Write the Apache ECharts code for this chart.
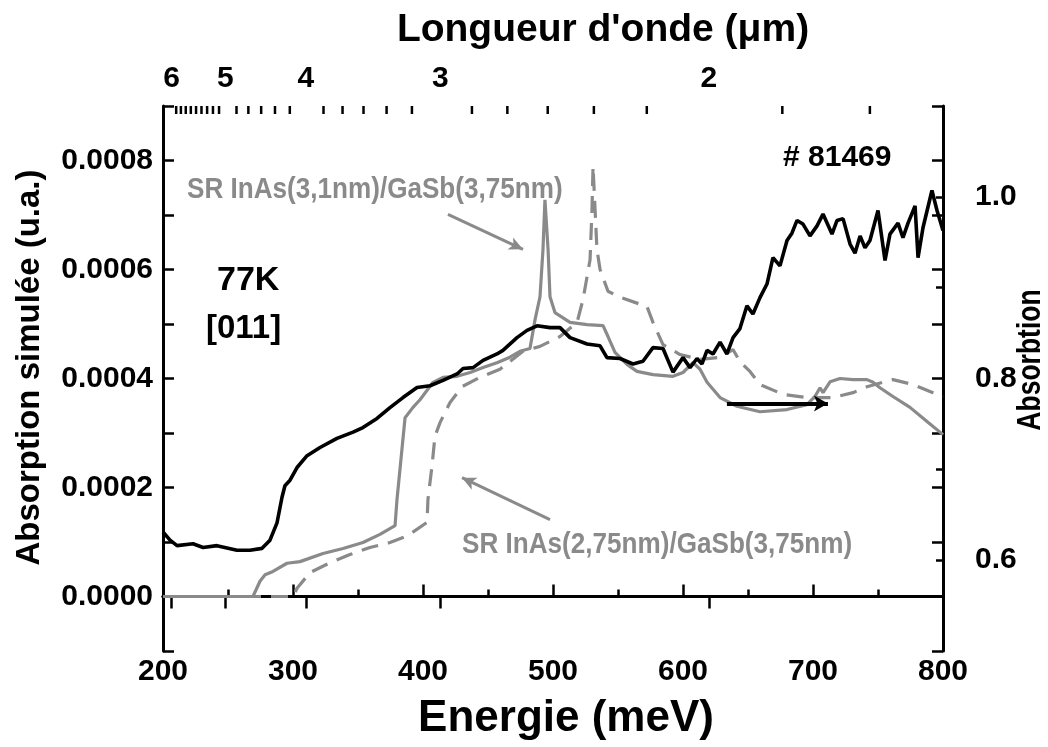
<!DOCTYPE html>
<html>
<head>
<meta charset="utf-8">
<script src="https://cdn.jsdelivr.net/npm/echarts@6/dist/echarts.min.js"></script>
<style>html,body{margin:0;padding:0;background:#fff;overflow:hidden;width:1048px;height:747px}#c{width:1048px;height:747px}</style>
</head>
<body>
<div id="c"></div>
<script>
// ---- data ----
const HC = 1239.84; // meV * µm
const waveMajor = [6, 5, 4, 3, 2];
const waveMinor = [5.9,5.8,5.7,5.6,5.5,5.4,5.3,5.2,5.1,4.833,4.667,4.5,4.333,4.167,3.833,3.667,3.5,3.333,3.167,2.833,2.667,2.5,2.333,2.167,1.833,1.667];

// measured absorption (right axis) – sample # 81469
const expE = [200,205.4,210.8,223.1,230.8,241.5,256.9,266.9,276.2,282.3,287.7,291.5,293.8,297.7,303.1,310.8,320.8,333.8,346.2,353.8,364.6,374.6,384.6,395.4,405.4,415.4,426.2,430.8,438.5,446.2,456.9,461.5,472.3,480,487.7,497.7,505.4,513.1,526.2,536.2,541.5,551.5,561.5,569.2,576.9,584.6,592.3,600,605.4,610.8,614.6,618.5,623.1,628.5,633.8,638.5,643.8,649.2,653.8,659.2,664.6,669.2,674.6,680,683.8,687.7,692.3,697.7,703.1,707.7,714.6,718.5,723.1,728.5,732.3,736.2,740,743.8,750,755.4,759.2,765.4,769.2,773.1,778.5,780.8,784.6,791.5,795.4,800];
const expA = [0.631,0.622,0.616,0.618,0.614,0.616,0.611,0.611,0.613,0.622,0.641,0.669,0.682,0.688,0.702,0.715,0.724,0.734,0.741,0.746,0.756,0.768,0.779,0.790,0.792,0.798,0.805,0.811,0.812,0.820,0.827,0.831,0.845,0.853,0.858,0.856,0.856,0.845,0.838,0.836,0.823,0.822,0.816,0.819,0.834,0.833,0.807,0.823,0.812,0.822,0.816,0.831,0.827,0.840,0.827,0.845,0.855,0.880,0.871,0.889,0.904,0.933,0.924,0.952,0.960,0.974,0.970,0.957,0.968,0.981,0.959,0.974,0.976,0.948,0.938,0.957,0.944,0.952,0.985,0.930,0.959,0.971,0.955,0.971,0.990,0.933,0.966,1.007,0.985,0.963];

// simulated SR InAs(3,1nm)/GaSb(3,75nm) – solid grey (left axis)
const simAE = [200,269.2,274.6,278.5,284.6,295.4,305.4,323.1,338.5,353.8,366.9,378.5,380,383.8,386.2,392.3,397.7,407.7,415.4,426.2,436.2,446.2,456.9,466.9,474.6,482.3,486.2,490,492.3,493.8,496.2,497.7,501.5,513.1,526.2,538.5,542.3,547.7,556.9,564.6,576.9,592.3,600,607.7,613.1,618.5,628.5,641.5,659.2,680,695.4,701.5,705.4,707.7,713.1,720.8,730.8,741.5,746.2,751.5,761.5,774.6,787.7,800];
const simAV = [0,0,0.000028,0.00004,0.000046,0.000061,0.000064,0.000079,0.000088,0.000099,0.000114,0.00013,0.000178,0.00027,0.000328,0.000347,0.000361,0.000393,0.000402,0.000404,0.000411,0.00042,0.000429,0.000439,0.00045,0.000455,0.000508,0.00055,0.000637,0.000728,0.000637,0.00055,0.000521,0.000503,0.000499,0.000497,0.000477,0.000448,0.000426,0.000413,0.000407,0.000404,0.000411,0.000429,0.000417,0.000393,0.000365,0.000349,0.000339,0.000343,0.000352,0.000367,0.000383,0.000374,0.000394,0.0004,0.000398,0.000398,0.000393,0.000383,0.000367,0.000347,0.000321,0.000297];

// simulated SR InAs(2,75nm)/GaSb(3,75nm) – dashed grey (left axis)
const simBE = [200,300,303.1,313.1,328.5,343.8,359.2,374.6,388.5,403.1,403.8,406.9,409.2,413.1,420.8,430,443.8,459.2,476.9,490,505.4,518.5,523.1,528.5,530,530.8,533.8,536.2,542.3,551.5,572.3,576.9,584.6,597.7,613.1,628.5,638.5,643.8,651.5,659.2,676.9,695.4,715.4,730.8,741.5,761.5,776.9,792.3,800];
const simBV = [0,0,0.000015,0.000044,0.000062,0.000077,0.00009,0.000099,0.000112,0.000136,0.000178,0.000239,0.000294,0.000319,0.000356,0.000385,0.000402,0.000417,0.00045,0.000459,0.000477,0.000503,0.000545,0.000618,0.00071,0.000789,0.000637,0.0006,0.00056,0.000549,0.000532,0.000503,0.000462,0.000444,0.000435,0.000439,0.000453,0.000431,0.000413,0.000389,0.000371,0.000365,0.000365,0.000374,0.000385,0.000398,0.000389,0.000374,0.000367];

// annotation arrows (data coordinates)
const arrowA = [[419.2, 0.000701], [476.9, 0.000637]];
const arrowB = [[497.7, 0.000141], [430.0, 0.000218]];
const arrowExp = [[633.8, 0.7725], [711.5, 0.7725]];

// ---- chart ----
const FONT = '"Liberation Sans", Arial, sans-serif';
const GREY = '#8a8a8a';
const zip = (a, b) => a.map((x, i) => [x, b[i]]);
const toE = w => HC / w;
const axisLine = {show: true, lineStyle: {color: '#000', width: 3}};
const tickStyle = {color: '#000', width: 2.5};
const lbl = {fontFamily: FONT, fontWeight: 'bold', fontSize: 30, color: '#000'};
const GRID_TOP = 106;

const chart = echarts.init(document.getElementById('c'), null, {renderer: 'canvas', width: 1048, height: 747});
chart.setOption({
  animation: false,
  backgroundColor: '#fff',
  grid: {left: 163, right: 105, top: GRID_TOP, bottom: 96, containLabel: false},
  xAxis: [
    {
      type: 'value', position: 'bottom', min: 200, max: 800, interval: 100,
      axisLine: axisLine,
      axisTick: {show: true, inside: true, length: 12, lineStyle: tickStyle},
      minorTick: {show: true, splitNumber: 2, length: 7, lineStyle: tickStyle},
      splitLine: {show: false},
      axisLabel: Object.assign({margin: 6}, lbl),
      name: 'Energie (meV)', nameLocation: 'middle', nameGap: 46,
      nameTextStyle: {fontFamily: FONT, fontWeight: 'bold', fontSize: 44, color: '#000', padding: [0, 0, 0, 26]}
    },
    {
      type: 'value', position: 'top', min: 200, max: 800,
      axisLine: axisLine,
      axisTick: {show: true, inside: true, length: 12, lineStyle: tickStyle, customValues: waveMajor.map(toE)},
      axisLabel: Object.assign({margin: 12, customValues: waveMajor.map(toE), formatter: v => String(Math.round(HC / v))}, lbl),
      splitLine: {show: false},
      name: "Longueur d'onde (\u03bcm)", nameLocation: 'middle', nameGap: 56,
      nameTextStyle: {fontFamily: FONT, fontWeight: 'bold', fontSize: 39, color: '#000', padding: [0, 0, 0, 100]}
    }
  ],
  yAxis: [
    {
      type: 'value', position: 'left', min: -0.0001, max: 0.0009, interval: 0.0001,
      axisLine: axisLine,
      axisTick: {show: true, inside: true, length: 11, lineStyle: tickStyle},
      splitLine: {show: false},
      axisLabel: Object.assign({margin: 10, formatter: v => {
        const k = Math.round(v * 1e4);
        return (k % 2 === 0 && k >= 0 && k <= 8) ? (k / 1e4).toFixed(4) : '';
      }}, lbl),
      name: 'Absorption simulée (u.a.)', nameLocation: 'middle', nameGap: 117,
      nameTextStyle: {fontFamily: FONT, fontWeight: 'bold', fontSize: 33, color: '#000', padding: [0, 0, 0, 22]}
    },
    {
      type: 'value', position: 'right', min: 0.5, max: 1.1, interval: 0.1,
      axisLine: axisLine,
      axisTick: {show: true, inside: true, length: 7, lineStyle: tickStyle},
      splitLine: {show: false},
      axisLabel: Object.assign({margin: 32, formatter: v => {
        const k = Math.round(v * 10);
        return (k === 6 || k === 8 || k === 10) ? (k / 10).toFixed(1) : '';
      }}, lbl)
    },
    {
      type: 'value', position: 'right', min: -0.0001, max: 0.0009, interval: 0.0001,
      axisLine: {show: false},
      axisTick: {show: true, inside: true, length: 11, lineStyle: tickStyle},
      splitLine: {show: false},
      axisLabel: {show: false}
    }
  ],
  series: [
    {
      name: 'SR InAs(2,75nm)/GaSb(3,75nm)', type: 'line', xAxisIndex: 0, yAxisIndex: 0,
      data: zip(simBE, simBV), showSymbol: false, symbol: 'none',
      lineStyle: {color: GREY, width: 3.2, type: [17, 10]}, z: 2
    },
    {
      name: 'SR InAs(3,1nm)/GaSb(3,75nm)', type: 'line', xAxisIndex: 0, yAxisIndex: 0,
      data: zip(simAE, simAV), showSymbol: false, symbol: 'none',
      lineStyle: {color: GREY, width: 3.2}, z: 3,
      markLine: {
        silent: true, symbol: ['none', 'arrow'], symbolSize: [10, 14], label: {show: false},
        lineStyle: {color: GREY, width: 3, type: 'solid'},
        data: [
          [{coord: arrowA[0]}, {coord: arrowA[1]}],
          [{coord: arrowB[0]}, {coord: arrowB[1]}]
        ]
      }
    },
    {
      name: '# 81469', type: 'line', xAxisIndex: 0, yAxisIndex: 1,
      data: zip(expE, expA), showSymbol: false, symbol: 'none',
      lineStyle: {color: '#000', width: 3.6}, z: 4,
      markLine: {
        silent: true, symbol: ['none', 'arrow'], symbolSize: [12, 14], label: {show: false},
        lineStyle: {color: '#000', width: 4, type: 'solid'},
        data: [[{coord: arrowExp[0]}, {coord: arrowExp[1]}]]
      }
    }
  ],
  graphic: [
    {type: 'text', left: 783, top: 143, style: {text: '# 81469', font: 'bold 30px ' + FONT, fill: '#000'}},
    {type: 'text', left: 217, top: 264, style: {text: '77K', font: 'bold 34px ' + FONT, fill: '#000'}},
    {type: 'text', left: 206, top: 312, style: {text: '[011]', font: 'bold 33px ' + FONT, fill: '#000'}},
    {type: 'text', x: 187, y: 190, scaleX: 0.87, style: {text: 'SR InAs(3,1nm)/GaSb(3,75nm)', font: 'bold 30px ' + FONT, fill: GREY, verticalAlign: 'middle'}},
    {type: 'text', x: 462, y: 545, scaleX: 0.87, style: {text: 'SR InAs(2,75nm)/GaSb(3,75nm)', font: 'bold 30px ' + FONT, fill: GREY, verticalAlign: 'middle'}},
    {type: 'text', x: 1031, y: 360, rotation: Math.PI / 2, scaleX: 0.78, style: {text: 'Absorbtion', font: 'bold 34px ' + FONT, fill: '#000', align: 'center', verticalAlign: 'middle'}}
  ]
});

// minor wavelength ticks on the top axis, positioned through the x axis scale
const minorTicks = waveMinor.map((w, i) => {
  const x = chart.convertToPixel({xAxisIndex: 0}, toE(w));
  return {
    type: 'line', id: 'wtick' + i, z: 50, silent: true,
    shape: {x1: x, y1: GRID_TOP, x2: x, y2: GRID_TOP + 8},
    style: {stroke: '#000', lineWidth: 2.5}
  };
});
chart.setOption({graphic: minorTicks});
</script>
</body>
</html>
